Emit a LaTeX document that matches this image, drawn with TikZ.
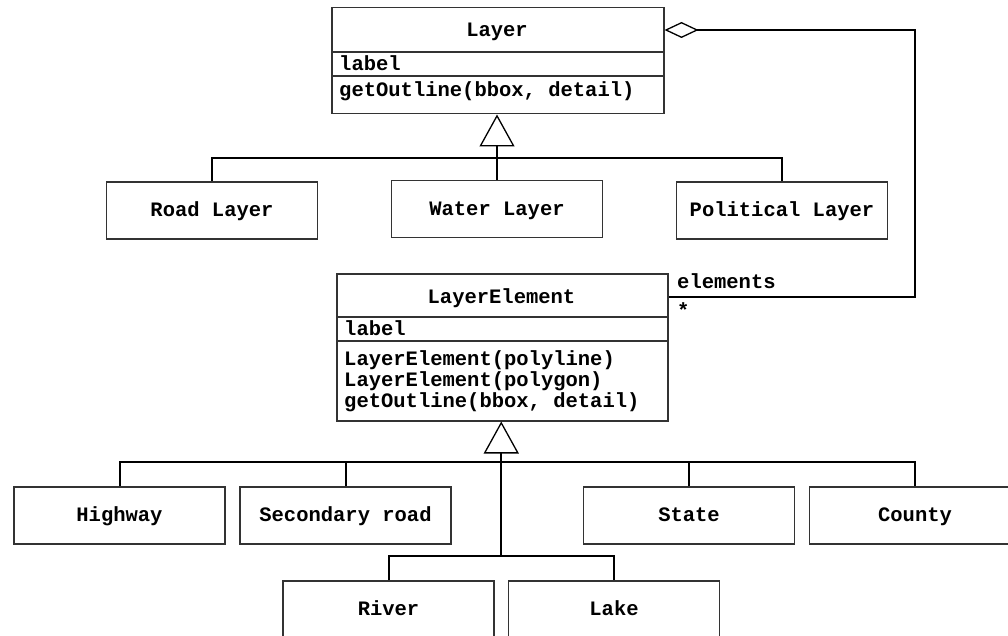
\documentclass[tikz,border=0pt]{standalone}
\usepackage{fontspec}
\setmonofont{Liberation Mono}
\usetikzlibrary{arrows.meta,calc}
\begin{document}
\begin{tikzpicture}[x=1pt,y=-1pt,
  every node/.style={font=\ttfamily\bfseries\fontsize{20.5}{24}\selectfont, inner sep=0pt},
  classbox/.style={draw=black!80, line width=1.5pt},
  leaf/.style={classbox, minimum width=211pt, minimum height=57pt, text height=12pt, text depth=0pt},
  wire/.style={line width=2pt},
  gen/.style={wire, -{Triangle[open, length=32pt, width=35pt, line width=1.3pt]}},
  agg/.style={wire, {Diamond[open, length=34pt, width=16pt, line width=1.3pt]}-},
  member/.style={anchor=base west}]
\clip (0,0) rectangle (1008,636);

% Layer class
\node[classbox, anchor=north west, minimum width=332pt, minimum height=106pt] (layer) at (331,7) {};
\draw[classbox] (layer.west |- 0,52) -- (layer.east |- 0,52);
\draw[classbox] (layer.west |- 0,76) -- (layer.east |- 0,76);
\node[anchor=base] (layername) at (497,37) {Layer};
\node[member] (layerattr) at (339,70.5) {label};
\node[member] (layerop) at (339,97) {getOutline(bbox, detail)};

% LayerElement class
\node[classbox, anchor=north west, minimum width=331pt, minimum height=147pt] (elem) at (336,273) {};
\draw[classbox] (elem.west |- 0,317) -- (elem.east |- 0,317);
\draw[classbox] (elem.west |- 0,341) -- (elem.east |- 0,341);
\node[anchor=base] (elemname) at (501.5,303) {LayerElement};
\node[member] (elemattr) at (344,335) {label};
\node[member] (elemop1) at (344,365) {LayerElement(polyline)};
\node[member] (elemop2) at (344,386) {LayerElement(polygon)};
\node[member] (elemop3) at (344,407) {getOutline(bbox, detail)};

% Layer subclasses
\node[leaf] (road) at (212,210.5) {Road Layer};
\node[leaf] (water) at (497,209) {Water Layer};
\node[leaf] (political) at (782,210.5) {Political Layer};

% LayerElement subclasses
\node[leaf] (highway) at (119.5,515.5) {Highway};
\node[leaf] (secondary) at (345.5,515.5) {Secondary road};
\node[leaf] (state) at (689,515.5) {State};
\node[leaf] (county) at (915,515.5) {County};
\node[leaf] (river) at (388.5,609.5) {River};
\node[leaf] (lake) at (614,609.5) {Lake};

% generalization of Layer
\draw[wire] (road.north) -- ++(0,-23) -| (political.north);
\draw[gen] (water.north) -- (water.north |- layer.south);

% generalization of LayerElement
\draw[wire] (highway.north) -- ++(0,-24) -| (county.north);
\draw[wire] (secondary.north) -- ++(0,-24);
\draw[wire] (state.north) -- ++(0,-24);
\draw[wire] (river.north) -- ++(0,-24) -| (lake.north);
\coordinate (fork) at ($(river.north)!0.5!(lake.north) + (0,-24)$);
\draw[gen] (fork) -- (fork |- elem.south);

% aggregation Layer <>-- LayerElement
\coordinate (bend) at (915,160);
\draw[agg] (layer.east |- 0,30) -| (bend) |- (elem.east |- 0,297);
\node[member] (rolename) at (677,288) {elements};
\node[member] (mult) at (677,317) {*};
\end{tikzpicture}
\end{document}
